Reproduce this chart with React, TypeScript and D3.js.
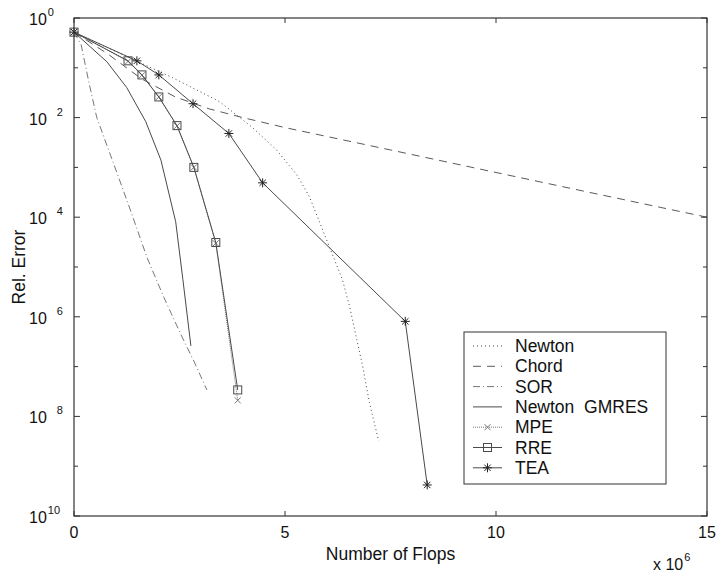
import React, { useEffect, useRef } from 'react';
import * as d3 from 'd3';

// flops are in units of 1e6, errors are relative errors
const newtonFlops = [0, 2.34, 3.45, 4.23, 4.8, 5.28, 5.58, 5.89, 6.36, 6.53, 6.7, 6.84, 7.0, 7.22];
const newtonErr = [0.52, 0.063, 0.0209, 6.3e-3, 2.24e-3, 7.1e-4, 2.57e-4, 5.6e-5, 5.6e-6, 1.62e-6, 3.5e-7, 1.02e-7, 1.9e-8, 3.2e-9];

const chordFlops = [0, 0.8, 1.6, 2.4, 3.2, 4.0, 5.0, 7.5, 10, 12.5, 15];
const chordErr = [0.52, 0.19, 0.06, 0.026, 0.015, 0.01, 6.3e-3, 2.24e-3, 7.9e-4, 2.8e-4, 1e-4];

const sorFlops = [0, 0.17, 0.35, 0.54, 0.95, 1.35, 1.73, 2.13, 2.53, 2.84, 3.15];
const sorErr = [0.52, 0.288, 0.0525, 0.01, 1.12e-3, 1.29e-4, 1.55e-5, 2.45e-6, 4.47e-7, 1.29e-7, 3.39e-8];

const gmresFlops = [0, 0.78, 1.25, 1.7, 2.06, 2.41, 2.58, 2.77];
const gmresErr = [0.52, 0.132, 0.04, 8.3e-3, 1.4e-3, 8.1e-5, 5.6e-6, 2.6e-7];

const mpeFlops = [0, 1.28, 1.61, 2.01, 2.44, 2.84, 3.36, 3.88];
const mpeErr = [0.52, 0.135, 0.071, 0.026, 6.8e-3, 1.0e-3, 3.0e-5, 2.1e-8];

const rreFlops = [0, 1.28, 1.61, 2.01, 2.44, 2.84, 3.36, 3.88];
const rreErr = [0.52, 0.138, 0.072, 0.026, 6.9e-3, 1.0e-3, 3.1e-5, 3.4e-8];

const teaFlops = [0, 1.49, 2.01, 2.82, 3.67, 4.47, 7.85, 8.37];
const teaErr = [0.52, 0.138, 0.072, 0.019, 4.8e-3, 4.9e-4, 8.1e-7, 4.2e-10];

const xTicks = [0, 5, 10, 15];
const yExponents = [0, 1, 2, 3, 4, 5, 6, 7, 8, 9, 10];
const yLabelExponents = [0, 2, 4, 6, 8, 10];

type Marker = 'none' | 'x' | 'square' | 'star';

interface Series {
  name: string;
  flops: number[];
  err: number[];
  dash: string;
  color: string;
  marker: Marker;
}

const series: Series[] = [
  { name: 'Newton', flops: newtonFlops, err: newtonErr, dash: '1,3', color: '#444', marker: 'none' },
  { name: 'Chord', flops: chordFlops, err: chordErr, dash: '8,6', color: '#5a5a5a', marker: 'none' },
  { name: 'SOR', flops: sorFlops, err: sorErr, dash: '7,3,1,3', color: '#777', marker: 'none' },
  { name: 'Newton  GMRES', flops: gmresFlops, err: gmresErr, dash: '', color: '#4a4a4a', marker: 'none' },
  { name: 'MPE', flops: mpeFlops, err: mpeErr, dash: '1,1', color: '#777', marker: 'x' },
  { name: 'RRE', flops: rreFlops, err: rreErr, dash: '', color: '#4a4a4a', marker: 'square' },
  { name: 'TEA', flops: teaFlops, err: teaErr, dash: '', color: '#4a4a4a', marker: 'star' },
];

const FONT = '"Liberation Sans", Arial, Helvetica, sans-serif';

const drawMarker = (g: any, kind: Marker, x: number, y: number, color: string) => {
  if (kind === 'square') {
    g.append('rect')
      .attr('x', x - 4).attr('y', y - 4)
      .attr('width', 8).attr('height', 8)
      .attr('fill', 'none').attr('stroke', color).attr('stroke-width', 1);
  } else if (kind === 'x') {
    const s = 3;
    g.append('path')
      .attr('d', `M${x - s},${y - s}L${x + s},${y + s}M${x - s},${y + s}L${x + s},${y - s}`)
      .attr('stroke', color).attr('stroke-width', 1).attr('fill', 'none');
  } else if (kind === 'star') {
    const s = 4.5, d = 3.2;
    g.append('path')
      .attr('d', `M${x - s},${y}L${x + s},${y}M${x},${y - s}L${x},${y + s}M${x - d},${y - d}L${x + d},${y + d}M${x - d},${y + d}L${x + d},${y - d}`)
      .attr('stroke', '#222').attr('stroke-width', 1).attr('fill', 'none');
  }
};

const App: React.FC = () => {
  const svgRef = useRef<SVGSVGElement>(null);

  useEffect(() => {
    const svg = d3.select(svgRef.current);
    svg.selectAll('*').remove();

    const left = 74, right = 707, top = 18, bottom = 516;

    const x = d3.scaleLinear().domain([0, 15]).range([left, right]);
    const y = d3.scaleLog().domain([1e-10, 1]).range([bottom, top]);

    svg.append('rect').attr('width', 719).attr('height', 578).attr('fill', '#fff');

    // data lines
    const plot = svg.append('g');
    series.forEach(s => {
      const pts = s.flops.map((f, i) => [f, s.err[i]] as [number, number]);
      const line = d3.line<[number, number]>().x(d => x(d[0])).y(d => y(d[1]));
      plot.append('path')
        .attr('d', line(pts))
        .attr('fill', 'none')
        .attr('stroke', s.color)
        .attr('stroke-width', 1)
        .attr('stroke-dasharray', s.dash || null);
      if (s.marker !== 'none') {
        pts.forEach(p => drawMarker(plot, s.marker, x(p[0]), y(p[1]), s.color));
      }
    });

    // frame
    svg.append('rect')
      .attr('x', left).attr('y', top)
      .attr('width', right - left).attr('height', bottom - top)
      .attr('fill', 'none').attr('stroke', '#333').attr('stroke-width', 1.2);

    // ticks point inward on all four sides
    const ticks = svg.append('g').attr('stroke', '#333').attr('stroke-width', 1);
    yExponents.forEach(e => {
      const ty = y(Math.pow(10, -e));
      const len = e % 2 === 0 ? 6 : 4;
      ticks.append('line').attr('x1', left).attr('x2', left + len).attr('y1', ty).attr('y2', ty);
      ticks.append('line').attr('x1', right).attr('x2', right - len).attr('y1', ty).attr('y2', ty);
    });
    xTicks.forEach(t => {
      const tx = x(t);
      ticks.append('line').attr('x1', tx).attr('x2', tx).attr('y1', bottom).attr('y2', bottom - 5);
      ticks.append('line').attr('x1', tx).attr('x2', tx).attr('y1', top).attr('y2', top + 5);
    });

    // y tick labels, exponent minus signs are lost as in the original
    yLabelExponents.forEach(e => {
      const ty = y(Math.pow(10, -e));
      const t = svg.append('text')
        .attr('x', 29).attr('y', ty + 7)
        .style('font-family', FONT).style('font-size', '16px').attr('fill', '#111')
        .text('10');
      t.append('tspan')
        .attr('dx', e === 0 || e === 10 ? 1 : 10)
        .attr('dy', -9)
        .style('font-size', '11px')
        .text(String(e));
    });

    // x tick labels
    xTicks.forEach(t => {
      svg.append('text')
        .attr('x', x(t)).attr('y', 538)
        .attr('text-anchor', 'middle')
        .style('font-family', FONT).style('font-size', '16px').attr('fill', '#111')
        .text(String(t));
    });

    // x multiplier
    const mult = svg.append('text')
      .attr('x', 653).attr('y', 570)
      .style('font-family', FONT).style('font-size', '16px').attr('fill', '#111')
      .text('x 10');
    mult.append('tspan').attr('dx', 1).attr('dy', -9).style('font-size', '11px').text('6');

    // axis labels
    svg.append('text')
      .attr('x', (left + right) / 2).attr('y', 560)
      .attr('text-anchor', 'middle')
      .style('font-family', FONT).style('font-size', '17.5px').attr('fill', '#111')
      .text('Number of Flops');

    svg.append('text')
      .attr('transform', `translate(25,${(top + bottom) / 2}) rotate(-90)`)
      .attr('text-anchor', 'middle')
      .style('font-family', FONT).style('font-size', '17.5px').attr('fill', '#111')
      .text('Rel. Error');

    // legend
    const legend = svg.append('g');
    legend.append('rect')
      .attr('x', 464).attr('y', 332)
      .attr('width', 202).attr('height', 152)
      .attr('fill', '#fff').attr('stroke', '#333').attr('stroke-width', 1);
    series.forEach((s, i) => {
      const ly = 346 + i * 20.3;
      legend.append('line')
        .attr('x1', 473).attr('x2', 502).attr('y1', ly).attr('y2', ly)
        .attr('stroke', s.color).attr('stroke-width', 1)
        .attr('stroke-dasharray', s.dash || null);
      if (s.marker !== 'none') drawMarker(legend, s.marker, 487.5, ly, s.color);
      legend.append('text')
        .attr('x', 515).attr('y', ly + 6)
        .style('font-family', FONT).style('font-size', '17.5px').attr('fill', '#111')
        .style('white-space', 'pre')
        .text(s.name);
    });
  }, []);

  return (
    <svg
      ref={svgRef}
      width={719}
      height={578}
      style={{ position: 'absolute', left: 0, top: 0 }}
    />
  );
};

export default App;
